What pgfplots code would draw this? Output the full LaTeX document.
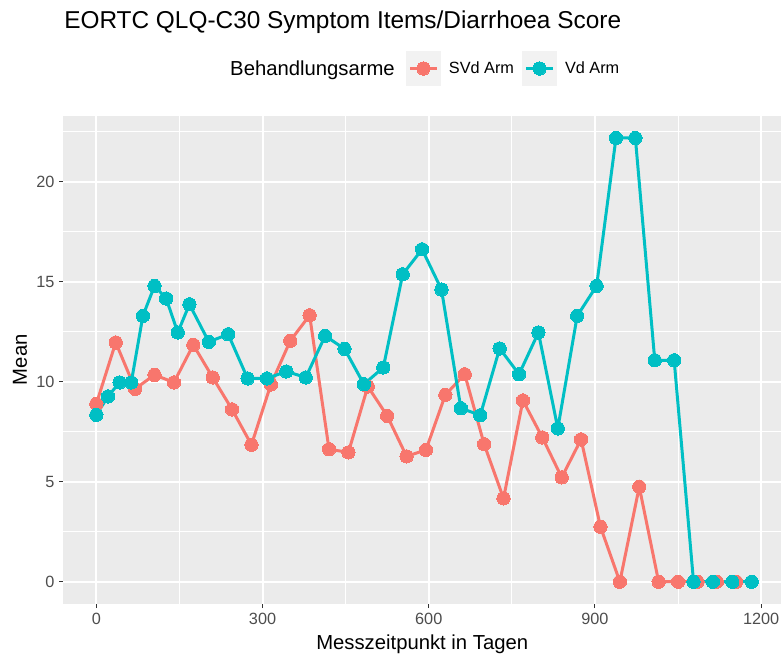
\documentclass[border=0pt]{standalone}
\usepackage{pgfplots}
\usepackage{pgfplotstable}
\pgfplotsset{compat=1.18}
\usepackage{fontspec}
\setmainfont{Liberation Sans}
\definecolor{ggred}{HTML}{F8766D}
\definecolor{ggcyan}{HTML}{00BFC4}
\definecolor{panelbg}{HTML}{EBEBEB}
\definecolor{keybg}{HTML}{F2F2F2}
\definecolor{ticklab}{HTML}{4D4D4D}
\definecolor{tickcol}{HTML}{333333}

\pgfplotstableread{
x y
0 8.9
35 11.97
70 9.65
105 10.35
140 9.97
175 11.85
210 10.22
245 8.62
280 6.85
315 9.87
350 12.05
385 13.33
420 6.63
455 6.47
490 9.77
525 8.3
560 6.27
595 6.6
630 9.35
665 10.38
700 6.88
735 4.17
770 9.07
805 7.22
840 5.22
875 7.12
910 2.75
945 0
980 4.75
1015 0
1050 0
1085 0
1120 0
1155 0
}\svd

\pgfplotstableread{
x y
0 8.35
21 9.27
42 9.97
63 9.97
84 13.3
105 14.8
126 14.17
147 12.47
168 13.88
203 12.0
238 12.38
273 10.17
308 10.17
343 10.52
378 10.22
413 12.3
448 11.65
483 9.88
518 10.72
553 15.38
588 16.63
623 14.62
658 8.68
693 8.33
728 11.67
763 10.38
798 12.47
833 7.67
868 13.3
903 14.8
938 22.2
973 22.2
1008 11.08
1043 11.08
1078 0
1113 0
1148 0
1183 0
}\vd

\begin{document}
\begin{tikzpicture}[x=0.75pt,y=0.75pt]
\useasboundingbox (0,0) rectangle (782,655);
\begin{axis}[
  at={(47.5pt,38.3pt)}, anchor=south west,
  scale only axis, width=538.3pt, height=366.1pt,
  xmin=-59.6, xmax=1236, ymin=-1.11, ymax=23.31,
  axis background/.style={fill=panelbg},
  axis line style={draw=none},
  xtick={0,300,600,900,1200},
  ytick={0,5,10,15,20},
  minor xtick={150,450,750,1050},
  minor ytick={2.5,7.5,12.5,17.5,22.5},
  grid=both,
  major grid style={white, line width=1.5pt},
  minor grid style={white, line width=0.75pt},
  tick align=outside,
  xtick pos=bottom, ytick pos=left,
  major tick length=3.2pt, minor tick length=0pt,
  tick style={tickcol, line width=0.8pt},
  /pgf/number format/assume math mode=true,
  /pgf/number format/1000 sep={},
  ticklabel style={font=\fontsize{12.2}{14}\selectfont, text=ticklab},
  legend image code/.code={
    \fill[keybg] (0pt,-12pt) rectangle (24pt,12pt);
    \draw[mark repeat=2,mark phase=2,#1] plot coordinates {(2pt,0pt) (12pt,0pt) (22pt,0pt)};
  },
  legend columns=-1,
  legend cell align=left,
  legend style={at={(axis description cs:0.477,1.0969)}, anchor=west,
    draw=none, fill=none, inner sep=0pt,
    font=\fontsize{12.2}{14}\selectfont,
    /tikz/every odd column/.append style={column sep=4pt},
    /tikz/every even column/.append style={column sep=4pt}},
]
\addplot[ggred, line width=2.25pt, mark=none, forget plot] table[x=x,y=y] {\svd};
\addplot[ggcyan, line width=2.25pt, mark=none, forget plot] table[x=x,y=y] {\vd};
\addplot[only marks, mark=*, mark size=5pt, mark options={fill=ggred, draw=ggred, line width=0pt}, forget plot] table[x=x,y=y] {\svd};
\addplot[only marks, mark=*, mark size=5pt, mark options={fill=ggcyan, draw=ggcyan, line width=0pt}, forget plot] table[x=x,y=y] {\vd};
\addlegendimage{ggred, line width=2.25pt, mark=*, mark size=5pt, mark options={line width=0pt}}
\addlegendentry{SVd Arm}
\addlegendimage{ggcyan, line width=2.25pt, mark=*, mark size=5pt, mark options={line width=0pt}}
\addlegendentry{Vd Arm}
\end{axis}
\node[anchor=base west, font=\fontsize{18.3}{22}\selectfont, inner sep=0pt] at (64,626.7) {EORTC QLQ-C30 Symptom Items/Diarrhoea Score};
\node[anchor=base east, font=\fontsize{15.2}{18}\selectfont, inner sep=0pt] at (395,579.3) {Behandlungsarme};
\node[anchor=base, font=\fontsize{15.2}{18}\selectfont, inner sep=0pt] at (422.2,5.7) {Messzeitpunkt in Tagen};
\node[rotate=90, anchor=center, font=\fontsize{15.2}{18}\selectfont, inner sep=0pt] at (20,295.2) {Mean};
\end{tikzpicture}
\end{document}
